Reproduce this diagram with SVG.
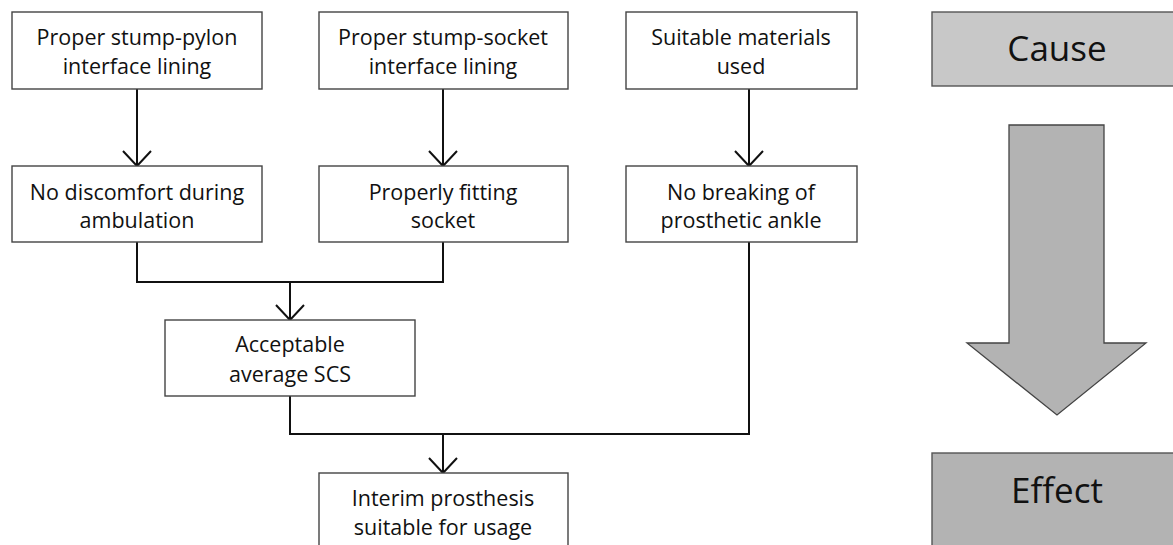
<svg xmlns="http://www.w3.org/2000/svg" width="1173" height="545" viewBox="0 0 1173 545">
<style>
.box{fill:#fff;stroke:#444;stroke-width:1.4}
.t{font-family:"Open Sans","Liberation Sans",sans-serif;font-size:21.5px;fill:#111;text-anchor:middle}
.big{font-family:"Open Sans","Liberation Sans",sans-serif;font-size:35px;fill:#111;text-anchor:middle}
.c{fill:none;stroke:#111;stroke-width:2}
</style>
<defs>
<marker id="ah" viewBox="0 0 18 30" refX="16" refY="15" markerWidth="18" markerHeight="30" markerUnits="userSpaceOnUse" orient="auto">
<path d="M1,1 L16,15 L1,29" fill="none" stroke="#111" stroke-width="2"/>
</marker>
</defs>
<rect width="1173" height="545" fill="#fff"/>
<g id="connectors">
<line class="c" x1="137" y1="89" x2="137" y2="166" marker-end="url(#ah)"/>
<line class="c" x1="443" y1="89" x2="443" y2="166" marker-end="url(#ah)"/>
<line class="c" x1="749" y1="89" x2="749" y2="166" marker-end="url(#ah)"/>
<path class="c" d="M137,242 V282 H443 V242"/>
<line class="c" x1="290" y1="282" x2="290" y2="320" marker-end="url(#ah)"/>
<path class="c" d="M290,396 V434 H749 V242"/>
<line class="c" x1="443" y1="434" x2="443" y2="473" marker-end="url(#ah)"/>
</g>
<g id="n1"><rect class="box" x="12" y="12" width="250" height="77"/><text class="t" x="137" y="45">Proper stump-pylon</text><text class="t" x="137" y="74">interface lining</text></g>
<g id="n2"><rect class="box" x="319" y="12" width="249" height="77"/><text class="t" x="443" y="45">Proper stump-socket</text><text class="t" x="443" y="74">interface lining</text></g>
<g id="n3"><rect class="box" x="626" y="12" width="231" height="77"/><text class="t" x="741" y="45">Suitable materials</text><text class="t" x="741" y="74">used</text></g>
<g id="n4"><rect class="box" x="12" y="166" width="250" height="76"/><text class="t" x="137" y="200">No discomfort during</text><text class="t" x="137" y="228">ambulation</text></g>
<g id="n5"><rect class="box" x="319" y="166" width="249" height="76"/><text class="t" x="443" y="200">Properly fitting</text><text class="t" x="443" y="228">socket</text></g>
<g id="n6"><rect class="box" x="626" y="166" width="231" height="76"/><text class="t" x="741" y="200">No breaking of</text><text class="t" x="741" y="228">prosthetic ankle</text></g>
<g id="n7"><rect class="box" x="165" y="320" width="250" height="76"/><text class="t" x="290" y="352">Acceptable</text><text class="t" x="290" y="382">average SCS</text></g>
<g id="n8"><rect class="box" x="319" y="473" width="249" height="80"/><text class="t" x="443" y="506">Interim prosthesis</text><text class="t" x="443" y="535">suitable for usage</text></g>
<g id="cause"><rect x="932" y="12" width="250" height="74" fill="#c8c8c8" stroke="#555" stroke-width="1.4"/><text class="big" x="1057" y="61">Cause</text></g>
<g id="arrow"><path d="M1009,125 H1104 V343 H1146 L1057,415 L967,343 H1009 Z" fill="#b3b3b3" stroke="#444" stroke-width="1.3"/></g>
<g id="effect"><rect x="932" y="453" width="250" height="100" fill="#b3b3b3" stroke="#555" stroke-width="1.4"/><text class="big" x="1057" y="503">Effect</text></g>
</svg>
